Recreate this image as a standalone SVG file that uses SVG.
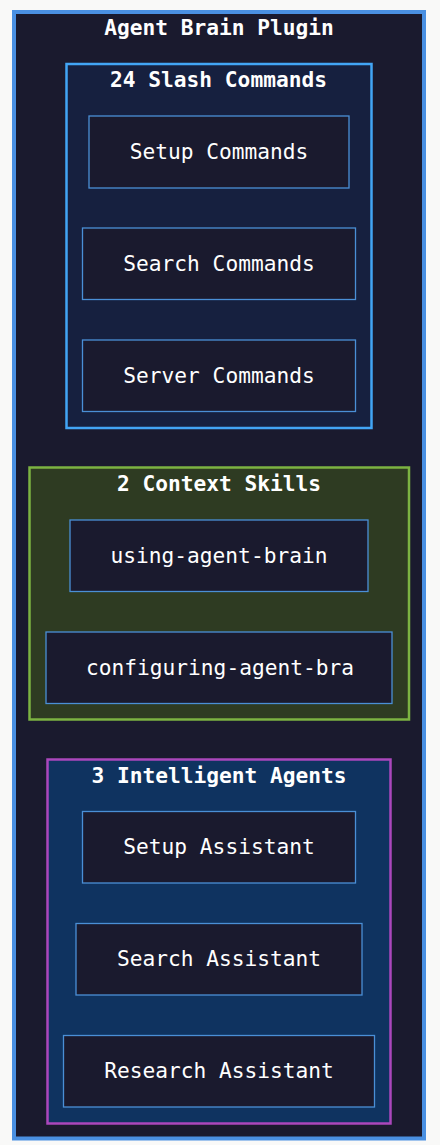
<svg xmlns="http://www.w3.org/2000/svg" width="440" height="1145" viewBox="0 0 440 1145">
<style>
.title{font-family:"DejaVu Sans Mono","Liberation Mono",monospace;font-weight:bold;font-size:21.2px;fill:#ffffff;text-anchor:middle}
.label{font-family:"DejaVu Sans Mono","Liberation Mono",monospace;font-size:21.2px;fill:#ffffff;text-anchor:middle}
.node{fill:#1a1a2e;stroke:#4a8fd6;stroke-width:1.3}
</style>
<rect x="0" y="0" width="440" height="1145" fill="#f9f9f8"/>
<g id="plugin">
<rect x="14" y="12" width="410" height="1126.5" fill="#1a1a2e" stroke="#4a90e2" stroke-width="4"/>
<text class="title" x="219" y="34.5">Agent Brain Plugin</text>
</g>
<g id="commands">
<rect x="66.5" y="64" width="305" height="364" fill="#16203f" stroke="#42a5f5" stroke-width="2.5"/>
<text class="title" x="218.5" y="87">24 Slash Commands</text>
</g>
<g id="setup-commands">
<rect class="node" x="89" y="116" width="260" height="72"/>
<text class="label" x="219" y="158.5">Setup Commands</text>
</g>
<g id="search-commands">
<rect class="node" x="82.5" y="228" width="273" height="71.5"/>
<text class="label" x="219" y="271">Search Commands</text>
</g>
<g id="server-commands">
<rect class="node" x="82.5" y="340" width="273" height="71.5"/>
<text class="label" x="219" y="382.8">Server Commands</text>
</g>
<g id="skills">
<rect x="29.5" y="467.5" width="379.5" height="252" fill="#2e3b22" stroke="#7cb342" stroke-width="2.5"/>
<text class="title" x="219" y="490.5">2 Context Skills</text>
</g>
<g id="using-agent-brain">
<rect class="node" x="70" y="520" width="298" height="71.5"/>
<text class="label" x="219" y="562.8">using-agent-brain</text>
</g>
<g id="configuring-agent-brain">
<rect class="node" x="46" y="632" width="346" height="71.5"/>
<text class="label" x="220" y="674.5">configuring-agent-bra</text>
</g>
<g id="agents">
<rect x="47.5" y="759.5" width="343" height="364" fill="#0f3360" stroke="#ab47bc" stroke-width="2.5"/>
<text class="title" x="219" y="782.8">3 Intelligent Agents</text>
</g>
<g id="setup-assistant">
<rect class="node" x="82.5" y="811.5" width="273" height="71.5"/>
<text class="label" x="219" y="854.3">Setup Assistant</text>
</g>
<g id="search-assistant">
<rect class="node" x="76" y="923.5" width="286" height="71.5"/>
<text class="label" x="219" y="966">Search Assistant</text>
</g>
<g id="research-assistant">
<rect class="node" x="63.5" y="1035.5" width="311" height="71.5"/>
<text class="label" x="219" y="1078">Research Assistant</text>
</g>
<g id="connectors"></g>
</svg>
